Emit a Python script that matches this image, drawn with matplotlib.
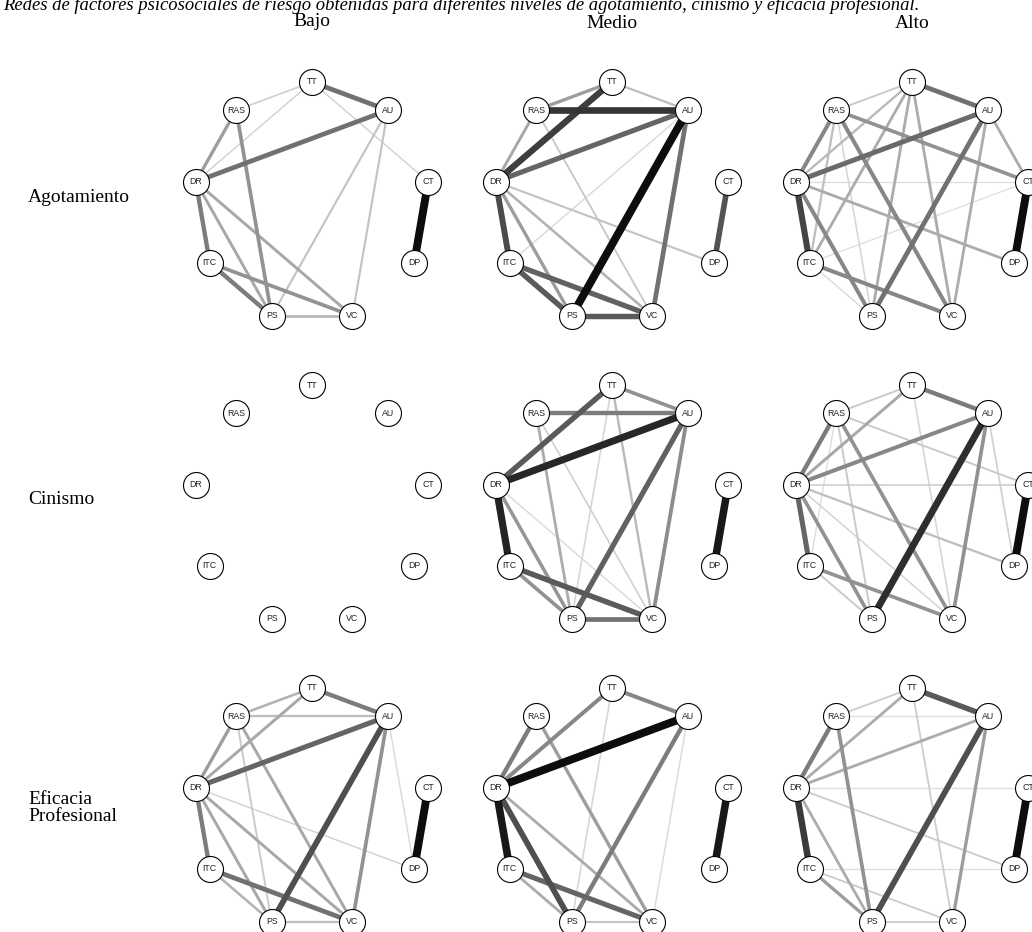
import numpy as np
import matplotlib
matplotlib.use("Agg")
import matplotlib.pyplot as plt

# nodes in circle order, starting at the top and going clockwise
nodes = ["TT", "AU", "CT", "DP", "VC", "PS", "ITC", "DR", "RAS"]
rows = ["Agotamiento", "Cinismo", "Eficacia\nProfesional"]
cols = ["Bajo", "Medio", "Alto"]

# edge weights (0-1)
agot_bajo = [("CT", "DP", 1.0), ("TT", "AU", 0.55), ("AU", "DR", 0.55), ("DR", "ITC", 0.5),
             ("ITC", "PS", 0.5), ("ITC", "VC", 0.4), ("RAS", "PS", 0.4), ("RAS", "DR", 0.35),
             ("DR", "PS", 0.3), ("DR", "VC", 0.3), ("PS", "VC", 0.25), ("TT", "RAS", 0.12),
             ("TT", "DR", 0.1), ("TT", "CT", 0.1), ("AU", "PS", 0.18), ("AU", "VC", 0.18)]
agot_medio = [("AU", "PS", 1.0), ("RAS", "AU", 0.82), ("TT", "DR", 0.78), ("AU", "DR", 0.6),
              ("AU", "VC", 0.55), ("DR", "ITC", 0.72), ("ITC", "PS", 0.65), ("ITC", "VC", 0.62),
              ("PS", "VC", 0.65), ("CT", "DP", 0.68), ("TT", "RAS", 0.35), ("TT", "AU", 0.2),
              ("RAS", "DR", 0.3), ("DR", "PS", 0.35), ("DR", "VC", 0.25), ("DR", "DP", 0.18),
              ("RAS", "VC", 0.15), ("ITC", "AU", 0.08)]
agot_alto = [("CT", "DP", 1.0), ("TT", "AU", 0.55), ("AU", "DR", 0.58), ("AU", "PS", 0.55),
             ("DR", "ITC", 0.75), ("RAS", "DR", 0.45), ("RAS", "CT", 0.4), ("RAS", "VC", 0.45),
             ("DR", "PS", 0.45), ("ITC", "VC", 0.45), ("DR", "DP", 0.28), ("AU", "CT", 0.28),
             ("AU", "VC", 0.28), ("TT", "PS", 0.28), ("TT", "VC", 0.28), ("TT", "ITC", 0.28),
             ("TT", "DR", 0.22), ("TT", "RAS", 0.15), ("RAS", "ITC", 0.2), ("RAS", "PS", 0.1),
             ("ITC", "PS", 0.08), ("DR", "CT", 0.06), ("ITC", "CT", 0.06)]
cin_bajo = []
cin_medio = [("DR", "AU", 0.88), ("DR", "ITC", 0.9), ("CT", "DP", 0.95), ("TT", "DR", 0.65),
             ("AU", "PS", 0.62), ("ITC", "VC", 0.65), ("PS", "VC", 0.55), ("RAS", "AU", 0.5),
             ("TT", "AU", 0.4), ("AU", "VC", 0.42), ("ITC", "PS", 0.4), ("DR", "PS", 0.38),
             ("RAS", "PS", 0.28), ("TT", "VC", 0.22), ("TT", "PS", 0.1), ("RAS", "VC", 0.12),
             ("DR", "VC", 0.08)]
cin_alto = [("AU", "PS", 0.85), ("CT", "DP", 1.0), ("TT", "AU", 0.5), ("DR", "ITC", 0.6),
            ("RAS", "DR", 0.5), ("AU", "DR", 0.45), ("AU", "VC", 0.4), ("RAS", "VC", 0.4),
            ("ITC", "VC", 0.4), ("DR", "PS", 0.4), ("TT", "DR", 0.3), ("TT", "RAS", 0.15),
            ("RAS", "CT", 0.15), ("DR", "CT", 0.12), ("DR", "DP", 0.2), ("AU", "DP", 0.12),
            ("RAS", "PS", 0.15), ("ITC", "PS", 0.15), ("DR", "VC", 0.1), ("TT", "VC", 0.1),
            ("RAS", "ITC", 0.07)]
efic_bajo = [("AU", "PS", 0.7), ("AU", "DR", 0.6), ("TT", "AU", 0.5), ("CT", "DP", 1.0),
             ("ITC", "VC", 0.55), ("DR", "ITC", 0.5), ("AU", "VC", 0.4), ("RAS", "DR", 0.35),
             ("TT", "DR", 0.3), ("TT", "RAS", 0.25), ("RAS", "AU", 0.2), ("RAS", "VC", 0.3),
             ("RAS", "PS", 0.15), ("DR", "PS", 0.3), ("DR", "VC", 0.3), ("ITC", "PS", 0.25),
             ("PS", "VC", 0.2), ("DR", "DP", 0.1), ("AU", "DP", 0.08)]
efic_medio = [("DR", "AU", 1.0), ("DR", "ITC", 0.95), ("CT", "DP", 0.95), ("DR", "PS", 0.7),
              ("ITC", "VC", 0.6), ("TT", "AU", 0.45), ("RAS", "DR", 0.5), ("TT", "DR", 0.45),
              ("AU", "PS", 0.5), ("RAS", "VC", 0.35), ("DR", "VC", 0.28), ("ITC", "PS", 0.28),
              ("PS", "VC", 0.18), ("TT", "PS", 0.1), ("AU", "VC", 0.08)]
efic_alto = [("AU", "PS", 0.7), ("TT", "AU", 0.65), ("DR", "ITC", 0.8), ("CT", "DP", 1.0),
             ("RAS", "DR", 0.5), ("RAS", "PS", 0.4), ("AU", "VC", 0.35), ("AU", "DR", 0.28),
             ("TT", "DR", 0.28), ("ITC", "PS", 0.35), ("DR", "PS", 0.28), ("TT", "RAS", 0.14),
             ("TT", "VC", 0.14), ("DR", "DP", 0.14), ("ITC", "VC", 0.14), ("PS", "VC", 0.14),
             ("RAS", "AU", 0.06), ("DR", "CT", 0.06), ("ITC", "DP", 0.06)]

networks = [[agot_bajo, agot_medio, agot_alto],
            [cin_bajo, cin_medio, cin_alto],
            [efic_bajo, efic_medio, efic_alto]]

W, H = 1032, 932
fig = plt.figure(figsize=(W / 100, H / 100), dpi=100)

angles = np.deg2rad(90 - 40 * np.arange(len(nodes)))
pos = {n: (np.cos(a), np.sin(a)) for n, a in zip(nodes, angles)}

col_cx = [312, 612, 912]
row_cy = [202.6, 505.6, 808.6]
rx, ry = 118, 120.6
lim = 1.3

for i in range(3):
    for j in range(3):
        left = (col_cx[j] - lim * rx) / W
        bottom = (H - (row_cy[i] + lim * ry)) / H
        ax = fig.add_axes([left, bottom, 2 * lim * rx / W, 2 * lim * ry / H])
        ax.set_xlim(-lim, lim)
        ax.set_ylim(-lim, lim)
        ax.axis("off")
        for a, b, w in sorted(networks[i][j], key=lambda e: e[2]):
            g = 0.92 - 0.87 * w
            ax.plot([pos[a][0], pos[b][0]], [pos[a][1], pos[b][1]],
                    color=(g, g, g), lw=0.6 + 5.1 * w, solid_capstyle="butt",
                    zorder=1, clip_on=False)
        xs = [pos[n][0] for n in nodes]
        ys = [pos[n][1] for n in nodes]
        ax.scatter(xs, ys, s=350, facecolor="white", edgecolor="black",
                   linewidth=0.8, zorder=3, clip_on=False)
        for n in nodes:
            ax.text(pos[n][0], pos[n][1], n, ha="center", va="center",
                    fontsize=6.3, family="Liberation Sans", color="#222222", zorder=4)

serif = "Liberation Serif"
fig.text(3 / W, 1 - 5 / H,
         "Redes de factores psicosociales de riesgo obtenidas para diferentes niveles "
         "de agotamiento, cinismo y eficacia profesional.",
         ha="left", va="center", style="italic", fontsize=13.4, family=serif)
col_y = [21.5, 23, 23]
for j, c in enumerate(cols):
    fig.text(col_cx[j] / W, 1 - col_y[j] / H, c, ha="center", va="center",
             fontsize=14, family=serif)
row_y = [197, 500, 808]
for i, r in enumerate(rows):
    fig.text(28 / W, 1 - row_y[i] / H, r, ha="left", va="center",
             fontsize=14, family=serif, linespacing=0.95)

fig.savefig("out.png", dpi=100)
